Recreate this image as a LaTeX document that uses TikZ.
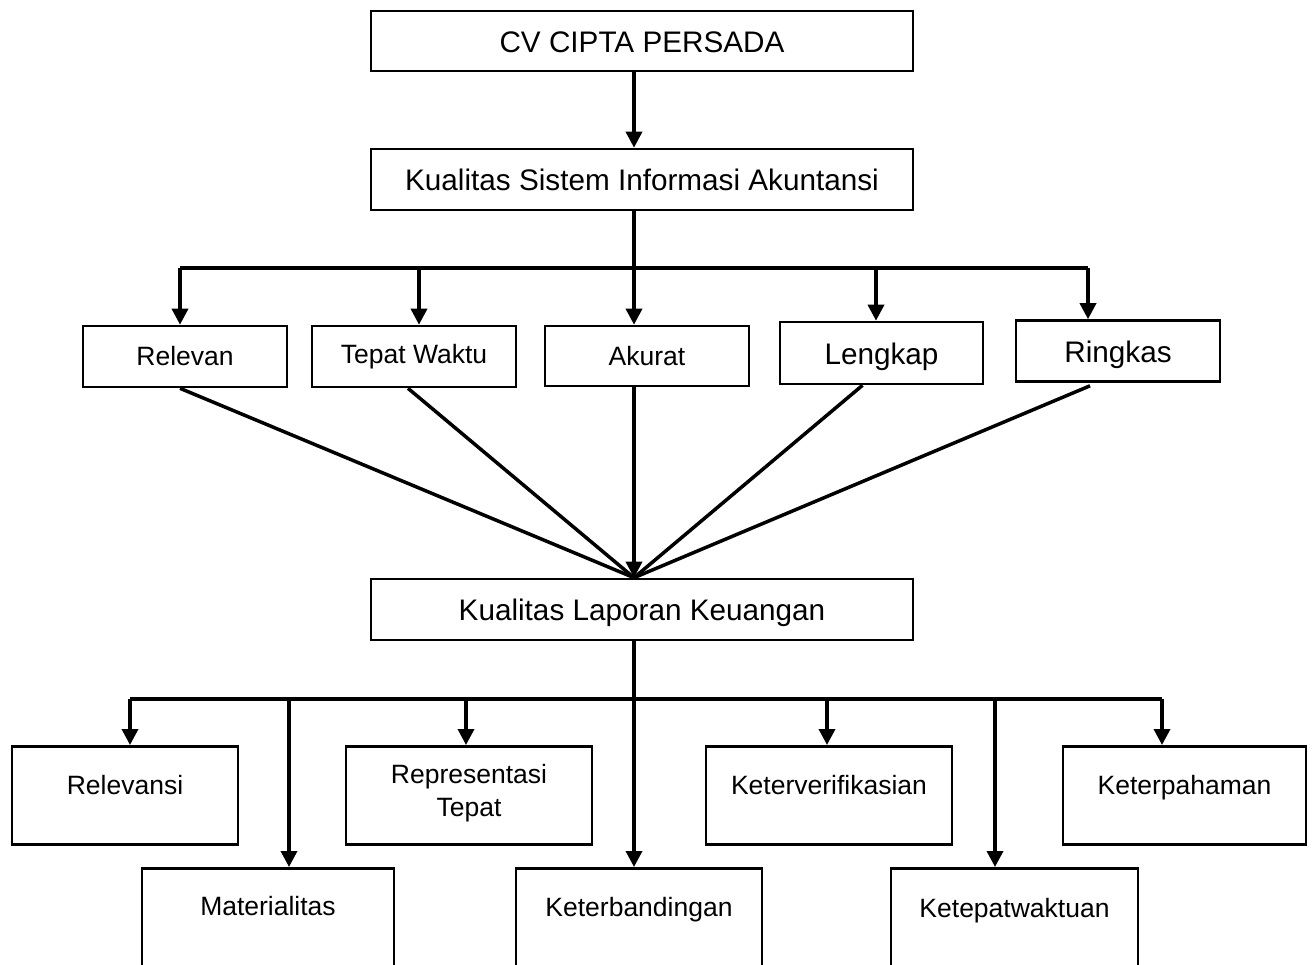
\documentclass[tikz,border=0pt]{standalone}
\usepackage{fontspec}
\setmainfont{Liberation Sans}
\usetikzlibrary{arrows.meta,calc}
\begin{document}
\begin{tikzpicture}[x=1pt,y=-1pt,
  box/.style={draw, line width=2.6pt, inner sep=0pt, align=center},
  big/.style={font=\fontsize{29.7}{33}\selectfont, text height=27pt, text depth=5pt},
  small/.style={font=\fontsize{26.5}{33}\selectfont},
  conn/.style={line width=3.5pt},
  arr/.style={conn, -{Triangle[width=16pt,length=16pt]}},
  lowbox/.style={box, small, anchor=north, text height=48pt, text depth=50pt},
  openbox/.style={box, small, anchor=north, text height=47pt, text depth=120pt}]
\useasboundingbox (0,0) rectangle (1316,964);
\clip (0,0) rectangle (1316,964);
% top level
\node[box, big, minimum width=542pt, minimum height=60pt] (cv) at (642,41) {CV CIPTA PERSADA};
\node[box, big, minimum width=542pt, minimum height=61pt] (sia) at (642,179.5) {Kualitas Sistem Informasi Akuntansi};
% second level
\node[box, small, minimum width=204pt, minimum height=61pt] (relevan) at (185,356.5) {Relevan};
\node[box, small, minimum width=204pt, minimum height=61pt] (tepat) at (414,356.5) {Tepat Waktu};
\node[box, small, minimum width=204pt, minimum height=60pt] (akurat) at (647,356) {Akurat};
\node[box, big, minimum width=203pt, minimum height=62pt] (lengkap) at (881.5,353) {Lengkap};
\node[box, big, minimum width=204pt, minimum height=61pt] (ringkas) at (1118,351) {Ringkas};
% third level
\node[box, big, minimum width=542pt, minimum height=61pt] (klk) at (642,609.5) {Kualitas Laporan Keuangan};
% fourth level
\node[lowbox, minimum width=226pt] (relevansi) at (125,745) {Relevansi};
\node[lowbox, minimum width=246pt, text height=70pt, text depth=28pt] (repr) at (469,745) {Representasi\\Tepat};
\node[lowbox, minimum width=246pt] (verif) at (829,745) {Keterverifikasian};
\node[lowbox, minimum width=243pt] (paham) at (1184.5,745) {Keterpahaman};
\node[openbox, minimum width=252pt] (materi) at (268,867) {Materialitas};
\node[openbox, minimum width=246pt, text height=48pt] (banding) at (639,867) {Keterbandingan};
\node[openbox, minimum width=247pt, text height=49pt] (tepatw) at (1014.5,867) {Ketepatwaktuan};
% coordinates
\coordinate (ax) at (634,0);
\coordinate (bus1) at (634,268);
\coordinate (b1a) at (180,268);
\coordinate (b1b) at (419,268);
\coordinate (b1d) at (876,268);
\coordinate (b1e) at (1088,268);
\coordinate (bus2) at (634,699);
\coordinate (b2a) at (130,699);
\coordinate (b2b) at (289,699);
\coordinate (b2c) at (466,699);
\coordinate (b2e) at (827,699);
\coordinate (b2f) at (995,699);
\coordinate (b2g) at (1162,699);
\coordinate (meet) at (klk.north -| ax);
% connectors top
\draw[arr] (cv.south -| ax) -- (sia.north -| ax);
\draw[conn] (sia.south -| ax) -- (bus1);
\draw[conn] (b1a) -- (b1e);
\draw[arr] (b1a) -- (relevan.north -| b1a);
\draw[arr] (b1b) -- (tepat.north -| b1b);
\draw[arr] (bus1) -- (akurat.north -| bus1);
\draw[arr] (b1d) -- (lengkap.north -| b1d);
\draw[arr] (b1e) -- (ringkas.north -| b1e);
% converging lines
\draw[conn] ($(relevan.south)+(-5,0)$) -- (meet);
\draw[conn] ($(tepat.south)+(-6,0)$) -- (meet);
\draw[arr] (akurat.south -| ax) -- (meet);
\draw[conn] ($(lengkap.south)+(-19,0)$) -- (meet);
\draw[conn] ($(ringkas.south)+(-28,3)$) -- (meet);
% connectors bottom
\draw[conn] (klk.south -| ax) -- (bus2);
\draw[conn] (b2a) -- (b2g);
\draw[arr] (b2a) -- (relevansi.north -| b2a);
\draw[arr] (b2b) -- (materi.north -| b2b);
\draw[arr] (b2c) -- (repr.north -| b2c);
\draw[arr] (bus2) -- (banding.north -| bus2);
\draw[arr] (b2e) -- (verif.north -| b2e);
\draw[arr] (b2f) -- (tepatw.north -| b2f);
\draw[arr] (b2g) -- (paham.north -| b2g);
\end{tikzpicture}
\end{document}
